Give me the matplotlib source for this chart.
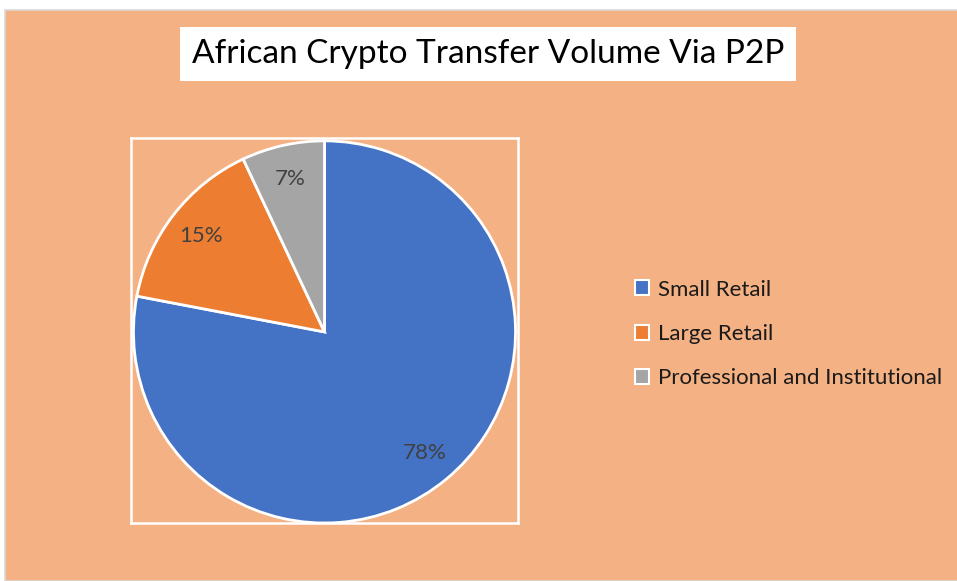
import matplotlib
matplotlib.use('Agg')
import matplotlib.pyplot as plt
from matplotlib.patches import Rectangle, Patch

# dados
categorias = ['Small Retail', 'Large Retail', 'Professional and Institutional']
valores = [78, 15, 7]
cores = ['#4472C4', '#ED7D31', '#A5A5A5']
titulo = 'African Crypto Transfer Volume Via P2P'

plt.rcParams['font.family'] = ['Lato', 'DejaVu Sans']
fundo = '#F4B183'

fig = plt.figure(figsize=(9.57, 5.81), dpi=100)
fig.patch.set_facecolor('white')

# area colorida (com borda branca/cinza no topo e esquerda)
fig.patches.append(Rectangle((5 / 957, 0), 1, 571 / 581, transform=fig.transFigure,
                             facecolor=fundo, edgecolor='#D9D9D9', linewidth=1.2, zorder=-5))

# titulo numa caixa branca
fig.text(488 / 957, 1 - 54 / 581, titulo, ha='center', va='center', fontsize=24, color='black',
         bbox=dict(boxstyle='square,pad=0.35', facecolor='white', edgecolor='none'))

# pizza
ax = fig.add_axes([131 / 957, 58 / 581, 387 / 957, 385 / 581])
ax.set_facecolor('none')
wedges, textos, pcts = ax.pie(valores, colors=cores, startangle=90, counterclock=False,
                              autopct='%1.0f%%', pctdistance=0.82,
                              wedgeprops=dict(edgecolor='white', linewidth=2),
                              textprops=dict(fontsize=16, color='#404040'))
ax.set_frame_on(True)
ax.set_xlim(-1.013, 1.013)
ax.set_ylim(-1.0, 1.015)
ax.set_aspect('auto')
ax.set_xticks([])
ax.set_yticks([])
for s in ax.spines.values():
    s.set_visible(True)
    s.set_color('white')
    s.set_linewidth(1.8)

# legenda
handles = [Patch(facecolor=c, edgecolor='white', linewidth=1.5) for c in cores]
fig.legend(handles, categorias, loc='center left', bbox_to_anchor=(615 / 957, 1 - 334 / 581),
           frameon=False, fontsize=16, handlelength=0.65, handleheight=0.65, handletextpad=0.4,
           labelspacing=1.1, labelcolor='#1a1a1a')

fig.savefig('out.png', dpi=100, facecolor=fig.get_facecolor())
